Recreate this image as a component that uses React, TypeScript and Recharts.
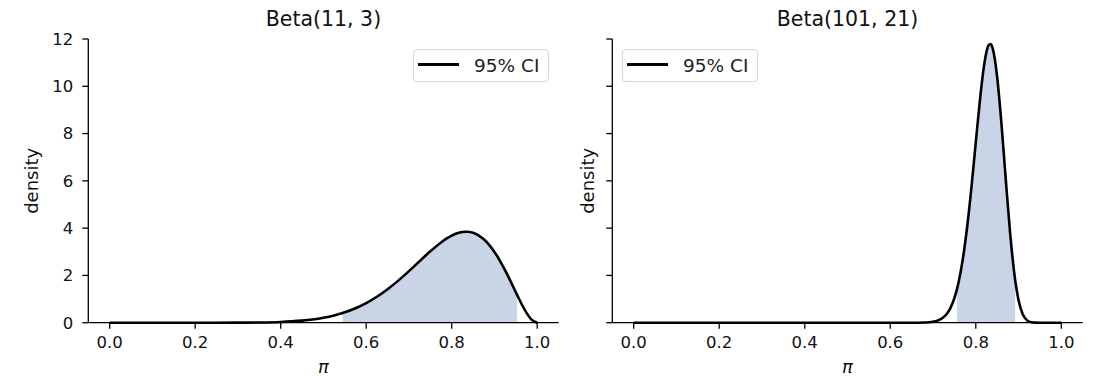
import { ComposedChart, Line, Area, XAxis, YAxis } from "recharts";

const FONT = '"DejaVu Sans", sans-serif';

// Beta(11, 3): pi values and density
const piA = [0, 0.1, 0.2, 0.25, 0.3, 0.35, 0.4, 0.425, 0.45, 0.475, 0.5, 0.525, 0.545, 0.55, 0.575, 0.6, 0.625, 0.65, 0.675, 0.7, 0.725, 0.75, 0.775, 0.7875, 0.8, 0.8125, 0.825, 0.8333, 0.8375, 0.85, 0.8625, 0.875, 0.8875, 0.9, 0.9125, 0.925, 0.9375, 0.95, 0.953, 0.9625, 0.975, 0.9875, 1.0];
const densA = [0, 0, 0, 0.0005, 0.0025, 0.01, 0.032, 0.055, 0.088, 0.138, 0.21, 0.308, 0.411, 0.44, 0.613, 0.83, 1.097, 1.415, 1.78, 2.181, 2.603, 3.02, 3.395, 3.554, 3.685, 3.782, 3.838, 3.849, 3.846, 3.801, 3.695, 3.527, 3.292, 2.992, 2.629, 2.213, 1.758, 1.284, 1.171, 0.823, 0.416, 0.118, 0];
const ciA = [0.545, 0.953];

// Beta(101, 21): right panel
const piB = [0, 0.2, 0.4, 0.6, 0.65, 0.68, 0.69, 0.7, 0.71, 0.72, 0.73, 0.74, 0.75, 0.756, 0.76, 0.77, 0.78, 0.79, 0.8, 0.81, 0.82, 0.83, 0.835, 0.84, 0.85, 0.86, 0.87, 0.88, 0.89, 0.892, 0.9, 0.91, 0.92, 0.93, 0.94, 0.95, 1.0];
const densB = [0, 0, 0, 0, 0.0005, 0.008, 0.018, 0.04, 0.085, 0.17, 0.325, 0.596, 1.042, 1.42, 1.731, 2.732, 4.08, 5.755, 7.63, 9.47, 10.96, 11.74, 11.79, 11.57, 10.39, 8.424, 6.081, 3.847, 2.09, 1.81, 0.949, 0.348, 0.098, 0.02, 0.003, 0.0003, 0];
const ciB = [0.756, 0.892];

const xTicks = [0, 0.2, 0.4, 0.6, 0.8, 1.0];
const yTicks = [0, 2, 4, 6, 8, 10, 12];
const titles = ["Beta(11, 3)", "Beta(101, 21)"];
const legendLabel = "95% CI";

const buildRows = (xs: number[], ys: number[], ci: number[]) =>
  xs.map((x, i) => ({
    x,
    density: ys[i],
    ci: x >= ci[0] - 1e-9 && x <= ci[1] + 1e-9 ? ys[i] : null,
  }));

const tickStyle = { fontSize: 16.5, fill: "#111", fontFamily: FONT };

const yLabel = (gap: number) => (props: any) => {
  const vb = props.viewBox;
  const x = vb.x + vb.width - gap;
  const y = vb.y + vb.height / 2;
  return (
    <text x={x} y={y} transform={`rotate(-90, ${x}, ${y})`} textAnchor="middle" dominantBaseline="central" fontSize={18} fontFamily={FONT} fill="#111">
      density
    </text>
  );
};

const xLabel = (props: any) => {
  const vb = props.viewBox;
  return (
    <text x={vb.x + vb.width / 2} y={vb.y + 50.5} textAnchor="middle" fontSize={18} fontStyle="italic" fontFamily={FONT} fill="#111">
      π
    </text>
  );
};

function Legend95({ left }: { left: number }) {
  return (
    <div style={{ position: "absolute", left, top: 49, width: 136, height: 33, boxSizing: "border-box", border: "1px solid #d6d6d6", borderRadius: 4, background: "rgba(255,255,255,0.8)" }}>
      <span style={{ position: "absolute", left: 4, top: 13, width: 41, height: 2.5, background: "#000" }} />
      <span style={{ position: "absolute", left: 60, top: 4.5, fontSize: 18.5, fontFamily: FONT, color: "#222", whiteSpace: "nowrap" }}>{legendLabel}</span>
    </div>
  );
}

interface PanelProps {
  rows: any[];
  title: string;
  left: number;
  width: number;
  yWidth: number;
  marginRight: number;
  showYTicks: boolean;
  labelGap: number;
  legendLeft: number;
}

function Panel({ rows, title, left, width, yWidth, marginRight, showYTicks, labelGap, legendLeft }: PanelProps) {
  const plotW = width - yWidth - marginRight;
  return (
    <div style={{ position: "absolute", left, top: 0, width, height: 390 }}>
      <div style={{ position: "absolute", left: yWidth, width: plotW, top: 8, textAlign: "center", fontSize: 20.5, fontFamily: FONT, color: "#111", lineHeight: 1.164 }}>
        {title}
      </div>
      <ComposedChart width={width} height={390} data={rows} margin={{ top: 39, right: marginRight, bottom: 0, left: 0 }}>
        <XAxis
          dataKey="x"
          type="number"
          domain={[-0.05, 1.05]}
          ticks={xTicks}
          tickFormatter={(v: number) => v.toFixed(1)}
          height={67.3}
          tick={tickStyle}
          tickSize={6}
          tickMargin={8}
          stroke="#000"
          strokeWidth={1.3}
          label={xLabel}
        />
        <YAxis
          type="number"
          domain={[0, 12]}
          ticks={yTicks}
          width={yWidth}
          tick={tickStyle}
          tickFormatter={(v: number) => (showYTicks ? String(v) : "")}
          tickSize={6}
          tickMargin={9}
          stroke="#000"
          strokeWidth={1.3}
          label={yLabel(labelGap)}
        />
        <Area dataKey="ci" type="monotone" stroke="none" fill="#c9d5e7" fillOpacity={1} isAnimationActive={false} />
        <Line dataKey="density" type="monotone" stroke="#000" strokeWidth={2.6} dot={false} isAnimationActive={false} />
      </ComposedChart>
      <Legend95 left={legendLeft} />
    </div>
  );
}

export default function App() {
  return (
    <div style={{ position: "absolute", left: 0, top: 0, width: 1097, height: 390, background: "#fff" }}>
      <Panel rows={buildRows(piA, densA, ciA)} title={titles[0]} left={0} width={560} yWidth={88.3} marginRight={1.4} showYTicks={true} labelGap={56.6} legendLeft={413} />
      <Panel rows={buildRows(piB, densB, ciB)} title={titles[1]} left={560} width={537} yWidth={52.3} marginRight={14.3} showYTicks={false} labelGap={24.3} legendLeft={62} />
    </div>
  );
}
